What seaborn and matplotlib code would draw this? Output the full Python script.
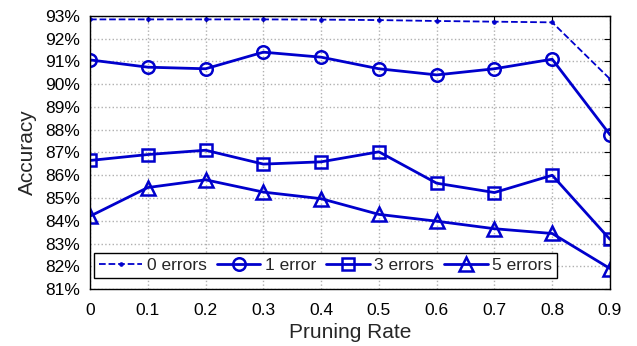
import seaborn as sns
import matplotlib.pyplot as plt
from matplotlib.ticker import FuncFormatter

pruning_rate = [0, 0.1, 0.2, 0.3, 0.4, 0.5, 0.6, 0.7, 0.8, 0.9]
acc_0_errors = [92.85, 92.85, 92.85, 92.85, 92.84, 92.82, 92.78, 92.75, 92.72, 90.23]
acc_1_error = [91.07, 90.75, 90.68, 91.41, 91.19, 90.68, 90.41, 90.68, 91.10, 87.78]
acc_3_errors = [86.65, 86.91, 87.10, 86.49, 86.59, 87.03, 85.65, 85.24, 86.00, 83.18]
acc_5_errors = [84.20, 85.46, 85.80, 85.26, 84.97, 84.28, 83.98, 83.65, 83.44, 81.90]

azul = "#0000CC"

sns.set_style("white")
plt.rcParams["font.family"] = ["Liberation Sans", "DejaVu Sans"]

fig = plt.figure(figsize=(6.37, 3.46), dpi=100)
ax = fig.add_axes([0.1413, 0.1647, 0.8163, 0.7891])

series = [
    (acc_0_errors, "0 errors", dict(marker=".", markersize=5, linestyle="--", linewidth=1.3, dashes=(6, 4))),
    (acc_1_error, "1 error", dict(marker="o", markersize=9, linewidth=2, markerfacecolor="none", markeredgewidth=1.8)),
    (acc_3_errors, "3 errors", dict(marker="s", markersize=8, linewidth=2, markerfacecolor="none", markeredgewidth=1.8)),
    (acc_5_errors, "5 errors", dict(marker="^", markersize=10, linewidth=2, markerfacecolor="none", markeredgewidth=1.8)),
]
for valores, nombre, estilo in series:
    sns.lineplot(x=pruning_rate, y=valores, ax=ax, color=azul, label=nombre,
                 markeredgecolor=azul, **estilo)

ax.set_xlim(0, 0.9)
ax.set_ylim(81, 93)
ax.set_xticks(pruning_rate)
ax.set_xticklabels(["0", "0.1", "0.2", "0.3", "0.4", "0.5", "0.6", "0.7", "0.8", "0.9"])
ax.set_yticks(range(81, 94))
ax.yaxis.set_major_formatter(FuncFormatter(lambda v, p: f"{int(v)}%"))
ax.tick_params(direction="in", length=4, width=0.8, top=True, right=True,
               labelsize=12.5, colors="black")
ax.tick_params(axis="x", pad=10)
ax.tick_params(axis="y", pad=7)
ax.grid(True, color="#b0b0b0", linestyle=":", linewidth=1.0)
for s in ax.spines.values():
    s.set_color("black")
    s.set_linewidth(1.0)

ax.set_xlabel("Pruning Rate", fontsize=15, labelpad=4)
ax.set_ylabel("Accuracy", fontsize=15, labelpad=6)

leg = ax.legend(loc="lower left", ncol=4, fontsize=12.5, frameon=True, fancybox=False,
                handlelength=2.5, handletextpad=0.25, columnspacing=0.6,
                borderpad=0.3, borderaxespad=0.3, bbox_to_anchor=(-0.003, 0.02))
leg.get_frame().set_edgecolor("black")
leg.get_frame().set_linewidth(1.0)
leg.get_frame().set_alpha(1)

fig.savefig("out.png", dpi=100)
